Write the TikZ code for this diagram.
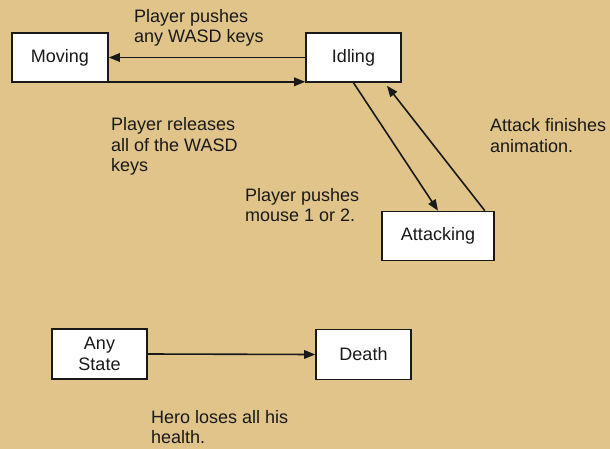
\documentclass[tikz,border=0pt]{standalone}
\usepackage{fontspec}
\setmainfont{Liberation Sans}
\usetikzlibrary{arrows.meta}
\definecolor{parch}{RGB}{224,196,138}
\definecolor{ink}{RGB}{25,25,25}
\begin{document}
\begin{tikzpicture}[x=1pt,y=-1pt,
  every node/.style={font=\fontsize{18}{20.5}\selectfont, text=ink},
  state/.style={draw=ink, fill=white, line width=1.6pt, inner sep=0pt, align=center},
  lbl/.style={anchor=base west, inner sep=0pt, align=left},
  arr/.style={draw=ink, line width=1.6pt, -{Triangle[length=11pt,width=8.5pt]}}]
\fill[parch] (0,0) rectangle (610,449);
\useasboundingbox (0,0) rectangle (610,449);
\node[state, minimum width=96pt, minimum height=49pt] (moving) at (60,57.5) {Moving};
\node[state, minimum width=95pt, minimum height=49pt] (idling) at (353.5,57.5) {Idling};
\node[state, minimum width=112pt, minimum height=49pt] (attacking) at (438,236) {Attacking};
\node[state, minimum width=95pt, minimum height=50pt, font=\fontsize{18}{21}\selectfont] (any) at (99.5,354) {Any\\State};
\node[state, minimum width=95pt, minimum height=50pt] (death) at (363.5,354.5) {Death};
\draw[arr] (idling.west) -- (moving.east);
\draw[arr] ([yshift=1pt]moving.south east) -- ([yshift=1pt]idling.south west);
\draw[arr] (idling.south) -- (attacking.north);
\draw[arr] ([xshift=-10pt]attacking.north east) -- ([xshift=33.5pt,yshift=-3pt]idling.south);
\draw[arr] (any.east) -- (death.west);
\node[lbl] (l1) at (134,43) {Player pushes\\any WASD keys};
\node[lbl] (l2) at (111,172) {Player releases\\all of the WASD\\keys};
\node[lbl] (l3) at (245,221.5) {Player pushes\\mouse 1 or 2.};
\node[lbl] (l4) at (490,152.5) {Attack finishes\\animation.};
\node[lbl] (l5) at (151,443.5) {Hero loses all his\\health.};
\end{tikzpicture}
\end{document}
